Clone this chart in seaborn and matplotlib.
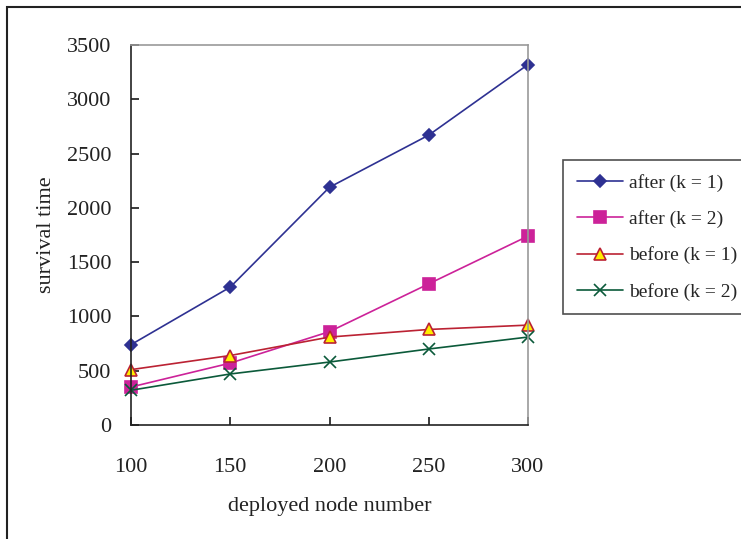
import matplotlib
matplotlib.use("Agg")
import matplotlib.pyplot as plt
import seaborn as sns
import pandas as pd
from matplotlib.patches import Rectangle
from matplotlib.lines import Line2D

nodes = [100, 150, 200, 250, 300]
after_k1 = [740, 1270, 2190, 2670, 3320]
after_k2 = [350, 570, 860, 1300, 1740]
before_k1 = [510, 640, 810, 880, 920]
before_k2 = [320, 470, 580, 700, 810]
series_names = ["after (k = 1)", "after (k = 2)", "before (k = 1)", "before (k = 2)"]
y_ticks = [0, 500, 1000, 1500, 2000, 2500, 3000, 3500]

sns.set_theme(style="white")
plt.rcParams['font.family'] = ['Liberation Serif', 'DejaVu Serif']

fig = plt.figure(figsize=(7.41, 5.39), dpi=100)
ax = fig.add_axes([131/741, 114/539, 397/741, 380/539])

colors = {"after (k = 1)": "#2E3192", "after (k = 2)": "#CC2299",
          "before (k = 1)": "#BB2233", "before (k = 2)": "#0B5A3A"}
styles = {
    "after (k = 1)": dict(marker="D", markersize=6, markerfacecolor="#2E3192", markeredgecolor="#2E3192"),
    "after (k = 2)": dict(marker="s", markersize=8, markerfacecolor="#CC2299", markeredgecolor="#CC2299"),
    "before (k = 1)": dict(marker="^", markersize=9, markerfacecolor="#FFEE00", markeredgecolor="#BB2233"),
    "before (k = 2)": dict(marker="x", markersize=8, markeredgecolor="#0B5A3A"),
}

handles = []
for name, vals in zip(series_names, [after_k1, after_k2, before_k1, before_k2]):
    d = pd.DataFrame({"nodes": nodes, "time": vals})
    sns.lineplot(data=d, x="nodes", y="time", color=colors[name], linewidth=1.2,
                 markeredgewidth=1.2, ax=ax, clip_on=False, **styles[name])
    handles.append(Line2D([0], [0], color=colors[name], lw=1.2, markeredgewidth=1.2, **styles[name]))

ax.set_xlim(100, 300)
ax.set_ylim(0, 3500)
ax.set_xticks(nodes)
ax.set_yticks(y_ticks)
ax.tick_params(axis="x", direction="in", length=6, pad=24, labelsize=16, colors="#222222", bottom=True)
ax.tick_params(axis="y", direction="in", length=6, pad=14, labelsize=16, colors="#222222", left=True)
for s in ["left", "bottom"]:
    ax.spines[s].set_color("#222222"); ax.spines[s].set_linewidth(1.2)
for s in ["top", "right"]:
    ax.spines[s].set_color("#999999"); ax.spines[s].set_linewidth(1.2)
ax.set_xlabel("deployed node number", fontsize=16, labelpad=14, color="#222222")
ax.set_ylabel("survival time", fontsize=16, color="#222222")
ax.yaxis.set_label_coords(-0.19, 0.5)

leg = fig.legend(handles, series_names, loc="upper left", bbox_to_anchor=(563/741, 1 - 160/539),
                 fontsize=14, frameon=True, fancybox=False, edgecolor="#222222",
                 handlelength=2.4, handletextpad=0.3, borderpad=0.7, labelspacing=0.95,
                 borderaxespad=0)
leg.get_frame().set_linewidth(1.2)

fig.patches.append(Rectangle((7/741, -0.05), 1.0, 1 - 7/539 + 0.05, transform=fig.transFigure,
                             fill=False, edgecolor="#222222", linewidth=1.5))

fig.savefig("out.png", dpi=100)
